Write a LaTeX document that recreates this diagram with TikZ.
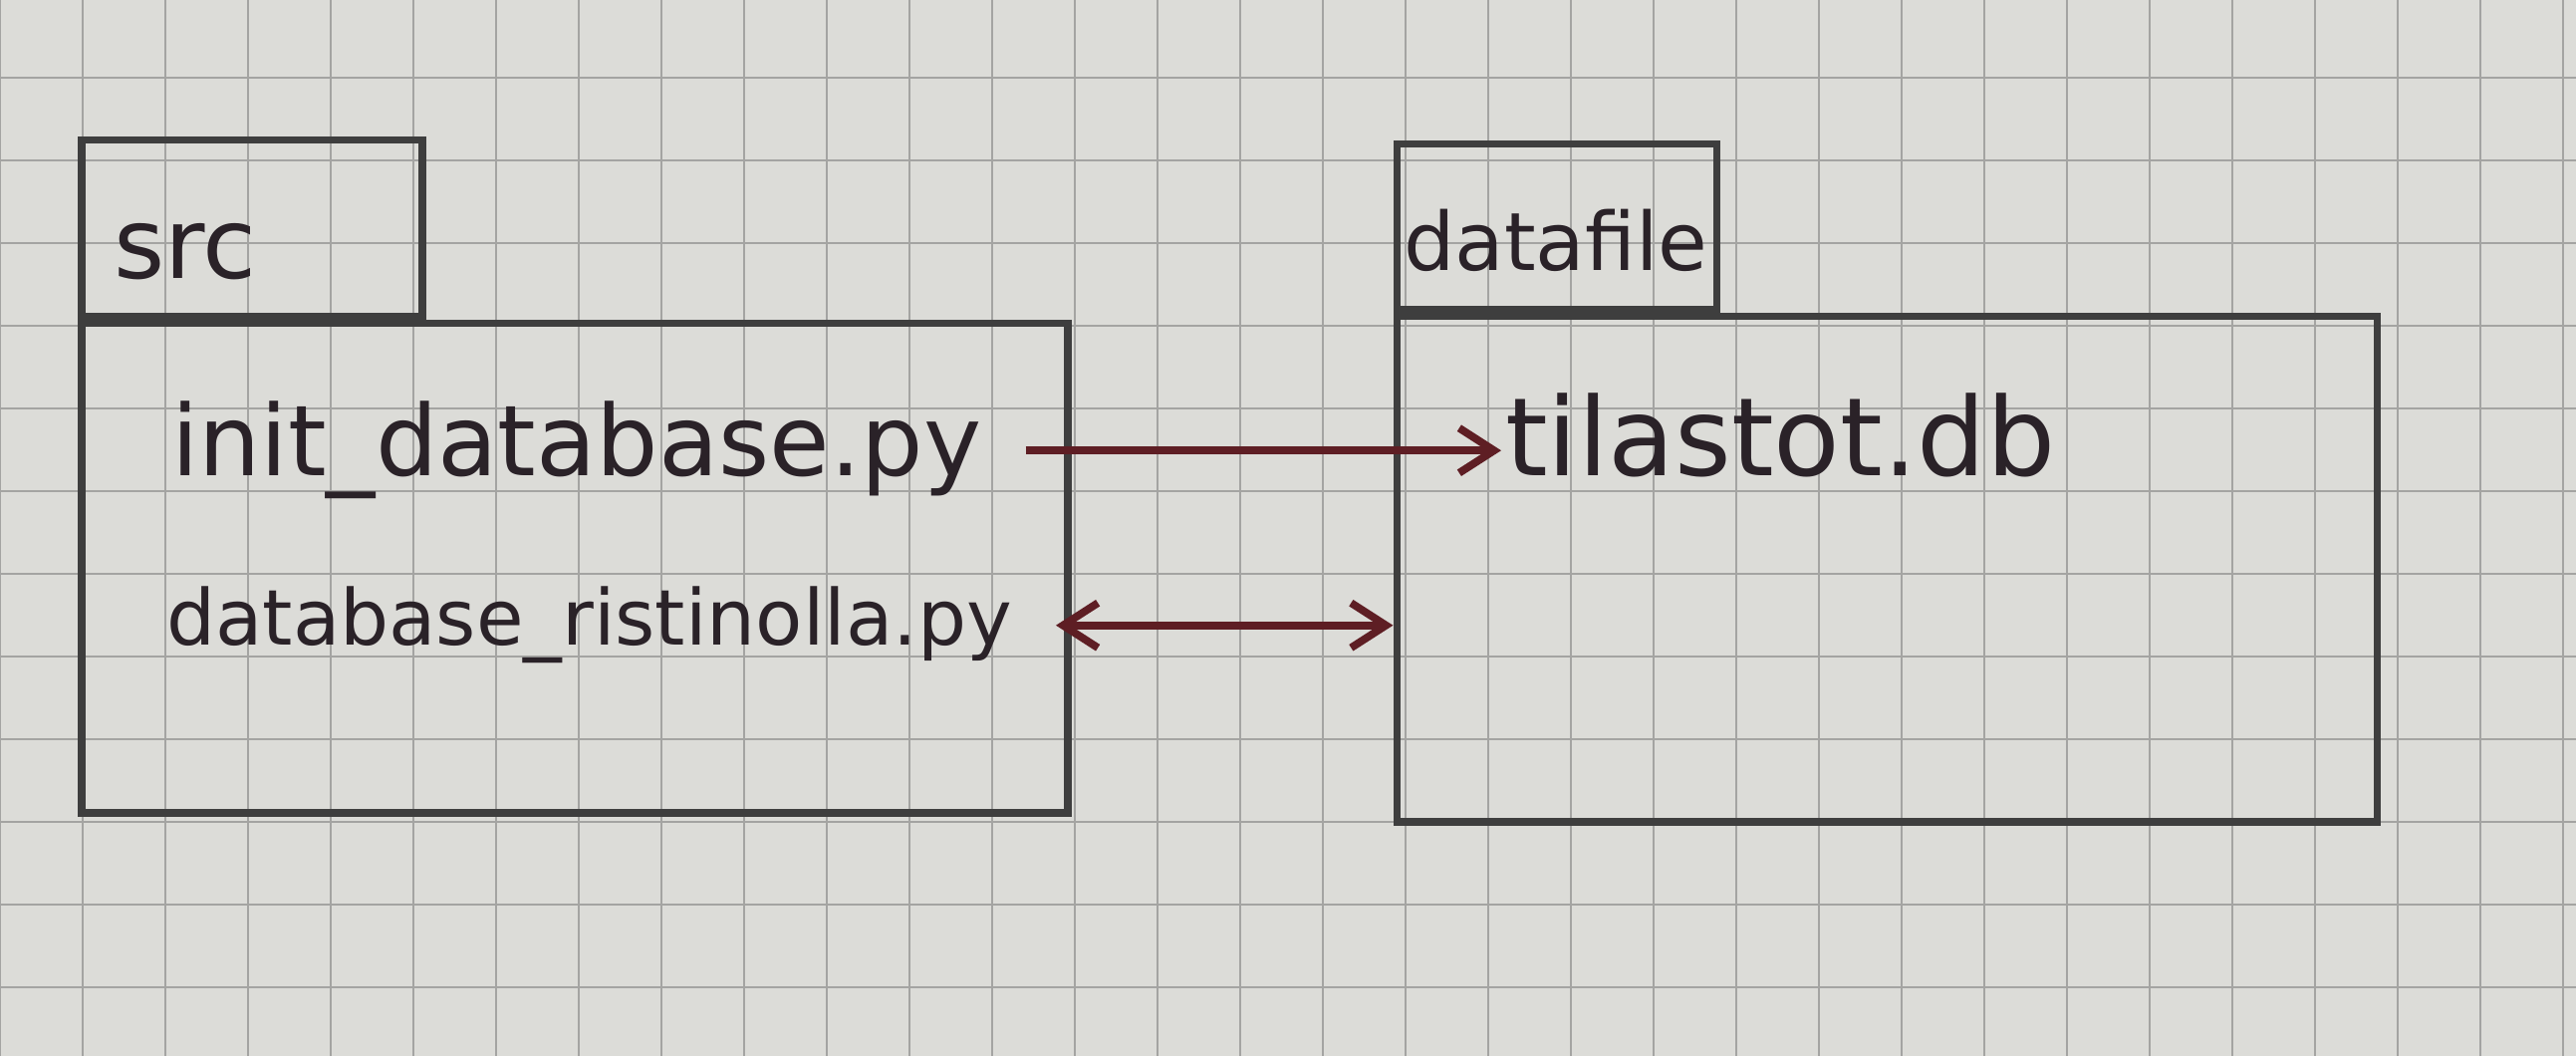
\documentclass[tikz,border=0pt]{standalone}
\usepackage{fontspec}
\setmainfont{DejaVu Sans}
\usetikzlibrary{positioning,arrows.meta}

\definecolor{paper}{HTML}{DCDCD8}
\definecolor{gridgray}{HTML}{A4A4A2}
\definecolor{pencilgray}{HTML}{3E3E3E}
\definecolor{inkgray}{HTML}{2A2228}
\definecolor{inkred}{HTML}{5E1E24}

\begin{document}
\begin{tikzpicture}[
    pencil/.style={draw=pencilgray, line width=2pt},
    body/.style={pencil, rectangle, inner sep=0pt},
    tab/.style={pencil, rectangle, inner sep=0pt, anchor=south west},
    hand/.style={text=inkgray, inner sep=1pt, anchor=base west},
    link/.style={draw=inkred, line width=2.2pt, -{Straight Barb[length=0.35cm,width=0.45cm]}}
  ]
    % Paper
    \fill[paper] (0,0) rectangle (25.86,10.6);
    \useasboundingbox (0,0) rectangle (25.86,10.6);
    \draw[gridgray, line width=0.6pt, yshift=-0.14cm, step=0.83] (0,0.14) grid (25.86,10.74);

    % Packages
    \node[body, minimum width=9.9cm, minimum height=4.91cm] (srcbody) at (5.77,4.895) {};
    \node[tab, minimum width=3.42cm, minimum height=1.77cm] (srctab) at (srcbody.north west) {};
    \node[body, minimum width=9.84cm, minimum height=5.07cm] (databody) at (18.94,4.885) {};
    \node[tab, minimum width=3.21cm, minimum height=1.66cm] (datatab) at (databody.north west) {};

    % Package names
    \node[hand, font=\fontsize{28}{30}\selectfont] (srcname) at (1.1,7.8) {src};
    \node[hand, font=\fontsize{23}{26}\selectfont] (dataname) at (14.05,7.88) {datafile};

    % Files
    \node[hand, font=\fontsize{28}{30}\selectfont] (initdb) at (1.68,5.82) {init\_database.py};
    \node[hand, font=\fontsize{22}{26}\selectfont] (ristinolla) at (1.63,4.12) {database\_ristinolla.py};
    \node[hand, font=\fontsize{31}{34}\selectfont] (tilastot) at (15.07,5.82) {tilastot.db};

    % Dependencies
    \draw[link, shorten <=0.4cm] (initdb.east) -- (initdb.east -| tilastot.west);
    \draw[link, {Straight Barb[length=0.35cm,width=0.45cm]}-{Straight Barb[length=0.35cm,width=0.45cm]}, shorten <=0.4cm]
      (ristinolla.east) -- (ristinolla.east -| databody.west);
  \end{tikzpicture}
\end{document}
